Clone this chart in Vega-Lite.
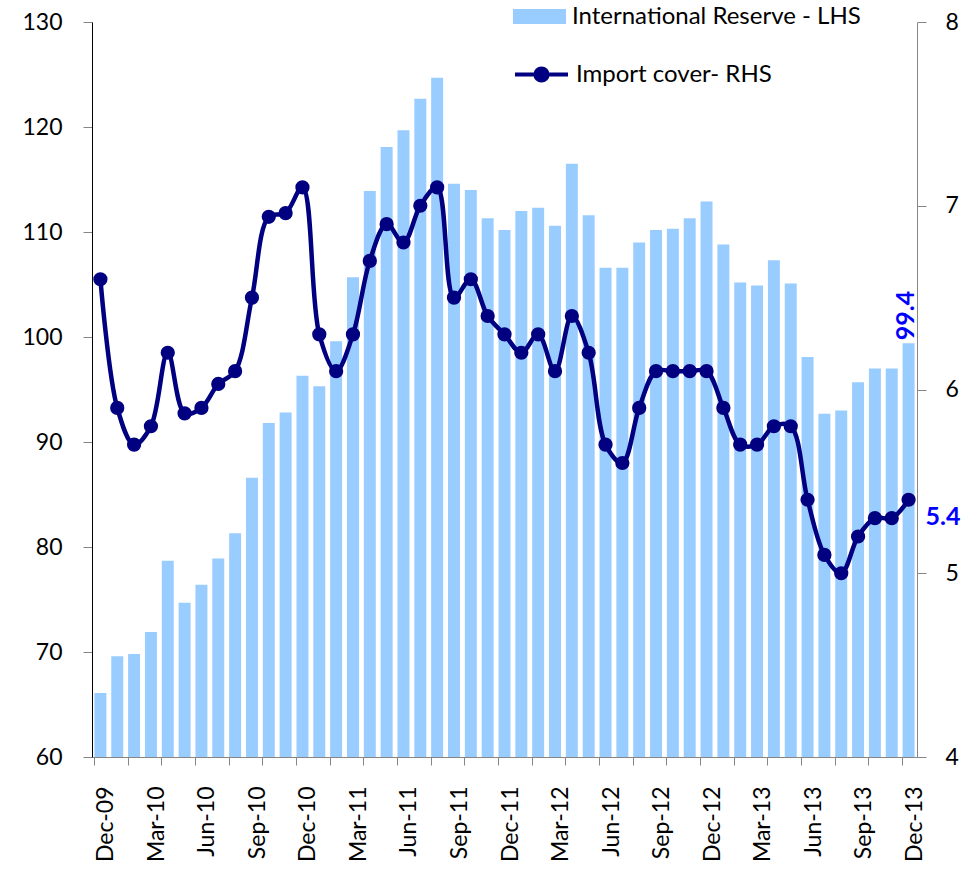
{
  "$schema": "https://vega.github.io/schema/vega-lite/v6.json",
  "width": 825,
  "height": 735,
  "autosize": {"type": "none"},
  "padding": {"left": 92, "top": 22, "right": 55, "bottom": 115},
  "background": "white",
  "config": {
    "view": {"stroke": null},
    "font": "Lato",
    "axis": {"grid": false, "labelFont": "Lato", "labelFontSize": 23, "labelColor": "#000000"},
    "legend": {"labelFont": "Lato", "labelFontSize": 24, "labelColor": "#000000", "labelLimit": 500},
    "text": {"font": "Lato"}
  },
  "data": {
    "values": [
      {"month": "Dec-09", "reserve": 66.1, "cover": 6.6},
      {"month": "Jan-10", "reserve": 69.6, "cover": 5.9},
      {"month": "Feb-10", "reserve": 69.8, "cover": 5.7},
      {"month": "Mar-10", "reserve": 71.9, "cover": 5.8},
      {"month": "Apr-10", "reserve": 78.7, "cover": 6.2},
      {"month": "May-10", "reserve": 74.7, "cover": 5.87},
      {"month": "Jun-10", "reserve": 76.4, "cover": 5.9},
      {"month": "Jul-10", "reserve": 78.9, "cover": 6.03},
      {"month": "Aug-10", "reserve": 81.3, "cover": 6.1},
      {"month": "Sep-10", "reserve": 86.6, "cover": 6.5},
      {"month": "Oct-10", "reserve": 91.8, "cover": 6.94},
      {"month": "Nov-10", "reserve": 92.8, "cover": 6.96},
      {"month": "Dec-10", "reserve": 96.3, "cover": 7.1},
      {"month": "Jan-11", "reserve": 95.3, "cover": 6.3},
      {"month": "Feb-11", "reserve": 99.6, "cover": 6.1},
      {"month": "Mar-11", "reserve": 105.7, "cover": 6.3},
      {"month": "Apr-11", "reserve": 113.9, "cover": 6.7},
      {"month": "May-11", "reserve": 118.1, "cover": 6.9},
      {"month": "Jun-11", "reserve": 119.7, "cover": 6.8},
      {"month": "Jul-11", "reserve": 122.7, "cover": 7.0},
      {"month": "Aug-11", "reserve": 124.7, "cover": 7.1},
      {"month": "Sep-11", "reserve": 114.6, "cover": 6.5},
      {"month": "Oct-11", "reserve": 114.0, "cover": 6.6},
      {"month": "Nov-11", "reserve": 111.3, "cover": 6.4},
      {"month": "Dec-11", "reserve": 110.2, "cover": 6.3},
      {"month": "Jan-12", "reserve": 112.0, "cover": 6.2},
      {"month": "Feb-12", "reserve": 112.3, "cover": 6.3},
      {"month": "Mar-12", "reserve": 110.6, "cover": 6.1},
      {"month": "Apr-12", "reserve": 116.5, "cover": 6.4},
      {"month": "May-12", "reserve": 111.6, "cover": 6.2},
      {"month": "Jun-12", "reserve": 106.6, "cover": 5.7},
      {"month": "Jul-12", "reserve": 106.6, "cover": 5.6},
      {"month": "Aug-12", "reserve": 109.0, "cover": 5.9},
      {"month": "Sep-12", "reserve": 110.2, "cover": 6.1},
      {"month": "Oct-12", "reserve": 110.3, "cover": 6.1},
      {"month": "Nov-12", "reserve": 111.3, "cover": 6.1},
      {"month": "Dec-12", "reserve": 112.9, "cover": 6.1},
      {"month": "Jan-13", "reserve": 108.8, "cover": 5.9},
      {"month": "Feb-13", "reserve": 105.2, "cover": 5.7},
      {"month": "Mar-13", "reserve": 104.9, "cover": 5.7},
      {"month": "Apr-13", "reserve": 107.3, "cover": 5.8},
      {"month": "May-13", "reserve": 105.1, "cover": 5.8},
      {"month": "Jun-13", "reserve": 98.1, "cover": 5.4},
      {"month": "Jul-13", "reserve": 92.7, "cover": 5.1},
      {"month": "Aug-13", "reserve": 93.0, "cover": 5.0},
      {"month": "Sep-13", "reserve": 95.7, "cover": 5.2},
      {"month": "Oct-13", "reserve": 97.0, "cover": 5.3},
      {"month": "Nov-13", "reserve": 97.0, "cover": 5.3},
      {"month": "Dec-13", "reserve": 99.4, "cover": 5.4}
    ]
  },
  "layer": [
    {
      "layer": [
        {
          "mark": {"type": "bar"},
          "encoding": {
            "x": {
              "field": "month", "type": "nominal", "sort": null,
              "scale": {"paddingInner": 0.29, "paddingOuter": 0.145},
              "axis": {
                "title": null,
                "labelAngle": 270,
                "labelOverlap": false,
                "labelExpr": "test(/^(Dec|Mar|Jun|Sep)/, datum.value) ? datum.value : ''",
                "bandPosition": 0,
                "labelOffset": 6,
                "tickSize": 8,
                "labelPadding": 21,
                "tickOpacity": {"condition": {"test": "test(/^(Dec|Feb|Apr|Jun|Aug|Oct)/, datum.value)", "value": 1}, "value": 0},
                "domainColor": "#868686",
                "tickColor": "#868686",
                "labelFontSize": 23
              }
            },
            "y": {
              "field": "reserve", "type": "quantitative",
              "scale": {"domain": [60, 130], "nice": false, "zero": false},
              "axis": {
                "title": null,
                "values": [60, 70, 80, 90, 100, 110, 120, 130],
                "tickSize": 9,
                "labelPadding": 21,
                "domainColor": "#000000",
                "tickColor": "#868686",
                "labelFontSize": 23
              }
            },
            "y2": {"datum": 60},
            "fill": {
              "datum": "International Reserve - LHS",
              "scale": {"range": ["#99CCFF"]},
              "legend": {
                "orient": "none",
                "legendX": 421,
                "legendY": -32,
                "title": null,
                "padding": 0,
                "symbolType": "M-1,-0.28H1V0.28H-1Z",
                "symbolSize": 2809,
                "symbolStrokeWidth": 0,
                "labelOffset": 6,
                "labelFontSize": 24,
                "labelLimit": 500
              }
            }
          }
        },
        {
          "transform": [{"filter": "datum.month == 'Dec-13'"}],
          "mark": {"type": "text", "angle": 270, "align": "left", "baseline": "middle", "dx": 3, "dy": -3, "fontSize": 25, "fontWeight": "bold", "font": "Lato", "color": "#0000FF"},
          "encoding": {
            "x": {"field": "month", "type": "nominal", "sort": null},
            "y": {"field": "reserve", "type": "quantitative"},
            "text": {"field": "reserve", "type": "quantitative", "format": ".1f"}
          }
        }
      ]
    },
    {
      "layer": [
        {
          "mark": {"type": "line", "interpolate": "catmull-rom", "strokeWidth": 4.5, "point": {"filled": true, "size": 150, "fill": "#000080"}},
          "encoding": {
            "x": {"field": "month", "type": "nominal", "sort": null},
            "y": {
              "field": "cover", "type": "quantitative",
              "scale": {"domain": [4, 8], "nice": false, "zero": false},
              "axis": {
                "title": null,
                "orient": "right",
                "values": [4, 5, 6, 7, 8],
                "format": "d",
                "tickSize": 9,
                "labelPadding": 19,
                "domainColor": "#868686",
                "tickColor": "#868686",
                "labelFontSize": 23
              }
            },
            "stroke": {
              "datum": "Import cover- RHS",
              "scale": {"range": ["#000080"]},
              "legend": {
                "orient": "none",
                "legendX": 421,
                "legendY": 24,
                "title": null,
                "padding": 0,
                "symbolType": "M-1,0H1M0.23,0A0.23,0.23,0,1,1,-0.23,0A0.23,0.23,0,1,1,0.23,0Z",
                "symbolSize": 2809,
                "symbolStrokeWidth": 4,
                "symbolFillColor": "#000080",
                "symbolStrokeColor": "#000080",
                "labelOffset": 6,
                "labelFontSize": 24,
                "labelLimit": 500
              }
            }
          }
        },
        {
          "transform": [{"filter": "datum.month == 'Dec-13'"}],
          "mark": {"type": "text", "align": "left", "baseline": "middle", "dx": 17, "dy": 17, "fontSize": 25, "fontWeight": "bold", "font": "Lato", "color": "#0000FF"},
          "encoding": {
            "x": {"field": "month", "type": "nominal", "sort": null},
            "y": {"field": "cover", "type": "quantitative"},
            "text": {"field": "cover", "type": "quantitative", "format": ".1f"}
          }
        }
      ]
    }
  ],
  "resolve": {"scale": {"y": "independent"}}
}
